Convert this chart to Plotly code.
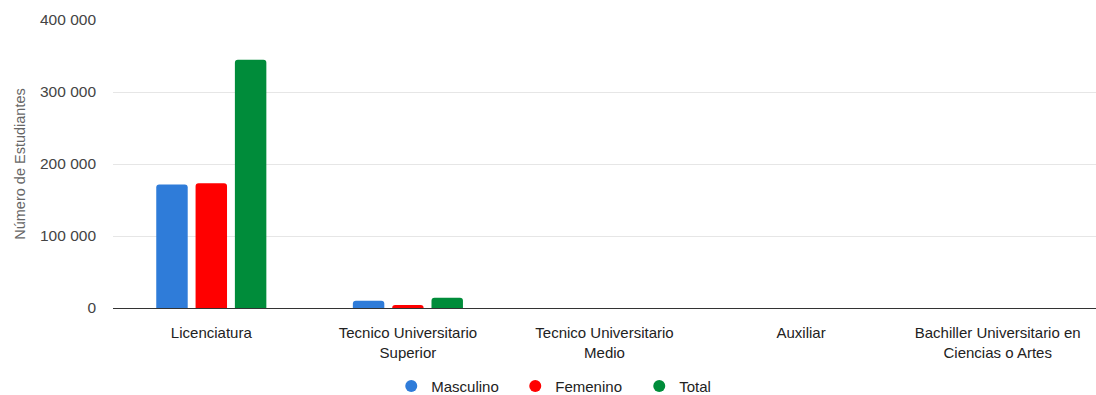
import plotly.graph_objects as go

# Enrolment by academic degree level
categories = [
    "Licenciatura",
    "Tecnico Universitario<br>Superior",
    "Tecnico Universitario<br>Medio",
    "Auxiliar",
    "Bachiller Universitario en<br>Ciencias o Artes",
]
masculino = [171500, 10000, 0, 0, 0]
femenino = [173200, 4300, 0, 0, 0]
total = [344700, 14300, 0, 0, 0]

series = [
    ("Masculino", masculino, "#2F7CD9"),
    ("Femenino", femenino, "#FF0000"),
    ("Total", total, "#008C3A"),
]

fig = go.Figure()
for name, values, color in series:
    fig.add_trace(go.Bar(
        x=categories, y=values, name=name,
        marker=dict(color=color, line=dict(width=0)),
        showlegend=False,
    ))
# Circular legend symbols
for name, values, color in series:
    fig.add_trace(go.Scatter(
        x=[None], y=[None], mode="markers", name=name,
        marker=dict(symbol="circle", size=15, color=color),
    ))

fig.update_layout(
    width=1096, height=395,
    margin=dict(l=113, r=0, t=20, b=87),
    paper_bgcolor="white", plot_bgcolor="white",
    font=dict(family="Liberation Sans, Arial, sans-serif", size=15, color="#222222"),
    separators=". ",
    barmode="group",
    bargap=0.4,
    bargroupgap=0.2,
    barcornerradius=3,
    showlegend=True,
    legend=dict(
        orientation="h", xref="container", x=0.357, xanchor="left",
        yref="container", y=0.022, yanchor="middle",
        font=dict(size=15, color="#222222"),
        itemsizing="constant",
        entrywidth=79, entrywidthmode="pixels",
    ),
    xaxis=dict(
        showgrid=False, showline=True, linecolor="#333333", linewidth=1,
        ticks="", tickfont=dict(size=15, color="#222222"),
        ticklabelstandoff=11, zeroline=False,
    ),
    yaxis=dict(
        range=[0, 400000], tickvals=[0, 100000, 200000, 300000, 400000],
        tickformat=",d", showgrid=True, gridcolor="#E6E6E6", gridwidth=1,
        zeroline=False, showline=False,
        tickfont=dict(size=15.5, color="#444444"),
        ticklabelstandoff=16,
        title=dict(text="Número de Estudiantes", font=dict(size=14.5, color="#666666"), standoff=10),
    ),
)

fig.write_html("out.html")
